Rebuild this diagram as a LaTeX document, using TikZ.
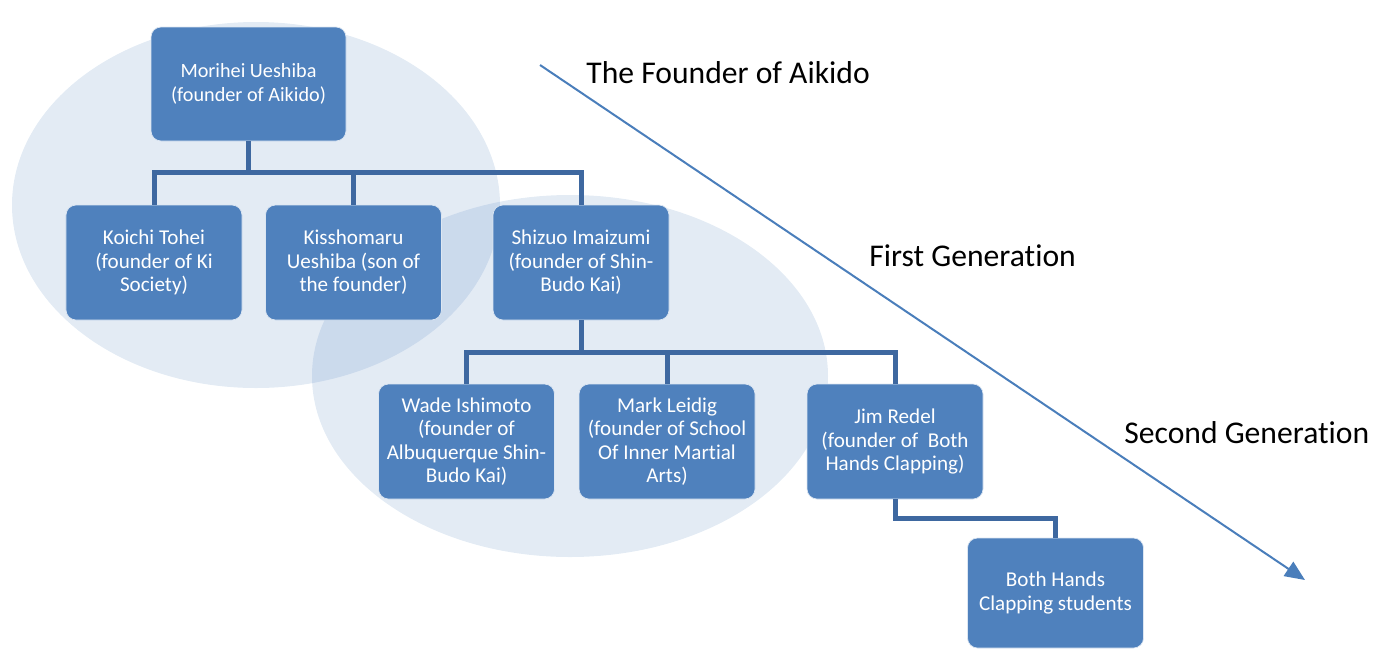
\documentclass[tikz,border=0pt]{standalone}
\usepackage{fontspec}
\setmainfont[Ligatures={NoCommon,NoRare,NoContextual},RawFeature=-ccmp]{Carlito}
\usepackage{xcolor}
\usepackage{tikz}
\usetikzlibrary{arrows.meta}

\definecolor{boxblue}{RGB}{79,129,189}
\definecolor{linkblue}{RGB}{62,104,160}
\definecolor{arrowblue}{RGB}{74,126,187}

\begin{document}
\begin{tikzpicture}[x=0.2mm,y=-0.2mm]
      \tikzset{gen/.style={rectangle,fill=boxblue,draw=white!80!boxblue,thin,rounded corners=2mm,text=white,align=center,minimum width=35.2mm,minimum height=23mm,inner sep=1mm,font=\fontsize{12}{13.4}\selectfont}}
      \tikzset{halo/.style={fill=boxblue,fill opacity=0.16}}
      \tikzset{link/.style={draw=linkblue,line width=1mm}}
      \tikzset{era/.style={anchor=west,inner sep=0pt,font=\fontsize{18}{22}\selectfont}}
      \tikzset{flow/.style={draw=arrowblue,line width=0.4mm,-{Triangle[length=4mm,width=3.4mm]}}}

      \useasboundingbox (0,0) rectangle (1374,650);

      \fill[halo] (256,205) ellipse [x radius=244,y radius=183];
      \fill[halo] (570,376) ellipse [x radius=258,y radius=181];

      \node[gen,minimum width=39mm,minimum height=22.8mm,font=\fontsize{11.5}{13.3}\selectfont] (mor) at (248.5,84) {Morihei Ueshiba\\(founder of Aikido)};

      \node[gen] (koi) [below of=mor,xshift=-18.9mm,yshift=-25.7mm] {Koichi Tohei\\(founder of Ki\\Society)};
      \node[gen] (kis) [right of=koi,xshift=29.9mm] {Kisshomaru\\Ueshiba (son of\\the founder)};
      \node[gen] (shi) [right of=kis,xshift=35.5mm] {Shizuo Imaizumi\\(founder of Shin-\\Budo Kai)};

      \node[gen] (wad) [below of=shi,xshift=-22.9mm,yshift=-25.8mm] {Wade Ishimoto\\(founder of\\Albuquerque Shin-\\Budo Kai)};
      \node[gen] (mar) [right of=wad,xshift=30.1mm] {Mark Leidig\\(founder of School\\Of Inner Martial\\Arts)};
      \node[gen] (jim) [right of=mar,xshift=35.6mm] {Jim Redel\\(founder of\ \ Both\\Hands Clapping)};

      \node[gen,minimum height=22mm] (bot) [below of=jim,xshift=32.1mm,yshift=-20.3mm] {Both Hands\\Clapping students};

      \draw[link] (mor.south) -- ++(0,31) -| (koi.north);
      \draw[link] (mor.south) -- ++(0,31) -| (kis.north);
      \draw[link] (mor.south) -- ++(0,31) -| (shi.north);

      \draw[link] (shi.south) -- ++(0,32) -| (wad.north);
      \draw[link] (shi.south) -- ++(0,32) -| (mar.north);
      \draw[link] (shi.south) -- ++(0,32) -| (jim.north);

      \draw[link] (jim.south) -- ++(0,19) -| (bot.north);

      \coordinate (t0) at (540,65);
      \coordinate (t1) at (1305,580);
      \draw[flow] (t0) -- (t1);

      \node[era] (lfound) at (586,73) {The Founder of Aikido};
      \node[era] (lfirst) at (869,256) {First Generation};
      \node[era] (lsecond) at (1124,433) {Second Generation};

\end{tikzpicture}
\end{document}
